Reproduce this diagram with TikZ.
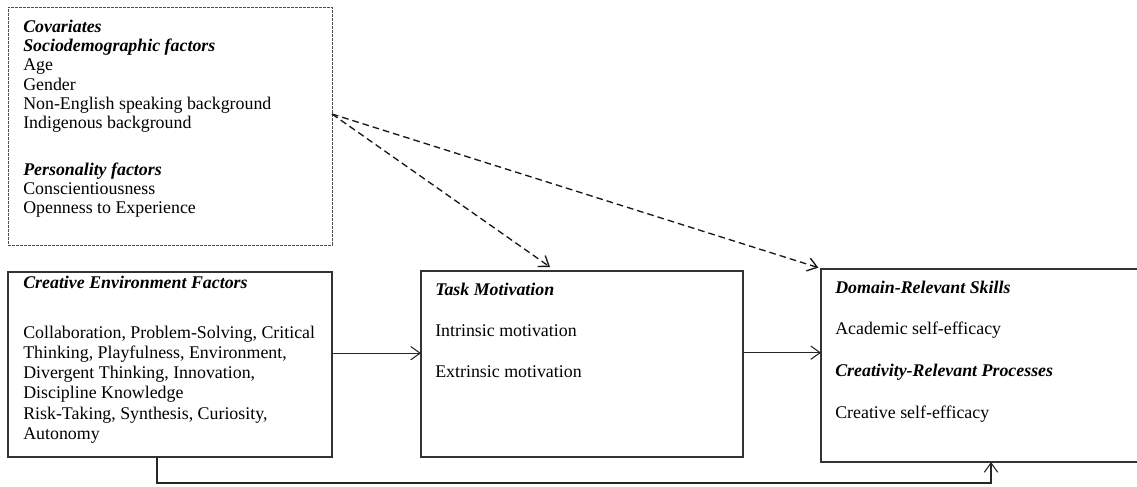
\documentclass[tikz,border=0pt]{standalone}
\usepackage{fontspec}
\setmainfont{Liberation Serif}
\usetikzlibrary{arrows.meta}
\newcommand{\hd}[1]{\textbf{\textit{#1}}}

\begin{document}
\begin{tikzpicture}[x=0.75pt,y=-0.75pt,
  box/.style={draw=black!80, line width=0.8pt, inner sep=0pt, outer sep=0pt},
  covbox/.style={draw=black!70, line width=0.7pt, dash pattern=on 2pt off 1pt,
    inner sep=0pt, outer sep=0pt},
  txt/.style={anchor=base west, inner sep=0pt},
  arr/.style={draw=black!85, line width=0.8pt, -{Straight Barb[length=7pt,width=10pt]}},
  dasharr/.style={arr, draw=black!90, line width=1pt, dash pattern=on 5pt off 3pt}]
 \useasboundingbox (0,0) rectangle (1137,486);
 \node[covbox, minimum width=243pt, minimum height=178.5pt] (cov) at (170,126) {};
 \node[box, minimum width=243pt, minimum height=138.75pt] (env) at (170,364.5) {};
 \node[box, minimum width=241.5pt, minimum height=139.5pt] (task) at (582,364) {};
 \node[box, minimum width=255pt, minimum height=144.75pt] (dom) at (991,365.5) {};
 \node[txt, font=\fontsize{13.4}{14.5}\selectfont] (covtxt) at (23,32)
   {\begin{tabular}[t]{@{}l@{}}
    \hd{Covariates}\\
    \hd{Sociodemographic factors}\\
    Age\\
    Gender\\
    Non-English speaking background\\
    Indigenous background\\[20.3pt]
    \hd{Personality factors}\\
    Conscientiousness\\
    Openness to Experience
   \end{tabular}};
 \node[txt, font=\fontsize{13.4}{15.2}\selectfont] (envtxt) at (23,288)
   {\begin{tabular}[t]{@{}l@{}}
    \hd{Creative Environment Factors}\\[22.3pt]
    Collaboration, Problem-Solving, Critical\\
    Thinking, Playfulness, Environment,\\
    Divergent Thinking, Innovation,\\
    Discipline Knowledge\\
    Risk-Taking, Synthesis, Curiosity,\\
    Autonomy
   \end{tabular}};
 \node[txt, font=\fontsize{13.4}{15.6}\selectfont] (tasktxt) at (435,295)
   {\begin{tabular}[t]{@{}l@{}}
    \hd{Task Motivation}\\[15.5pt]
    Intrinsic motivation\\[15.5pt]
    Extrinsic motivation
   \end{tabular}};
 \node[txt, font=\fontsize{13.4}{15.6}\selectfont] (domtxt) at (835,293)
   {\begin{tabular}[t]{@{}l@{}}
    \hd{Domain-Relevant Skills}\\[15.7pt]
    Academic self-efficacy\\[15.7pt]
    \hd{Creativity-Relevant Processes}\\[15.7pt]
    Creative self-efficacy
   \end{tabular}};
 \draw[dasharr] ([yshift=9pt]cov.east) -- ([xshift=-24pt,yshift=3pt]task.north);
 \draw[dasharr] ([yshift=9pt]cov.east) -- ([xshift=-2pt,yshift=1pt]dom.north west);
 \draw[arr] ([yshift=8.5pt]env.east) -- ([yshift=8.5pt]env.east -| task.west);
 \draw[arr] ([yshift=8.5pt]task.east) -- ([yshift=8.5pt]task.east -| dom.west);
 \draw[arr] ([xshift=-9.75pt]env.south) -- ++(0,26) -| (dom.south);
\end{tikzpicture}
\end{document}
